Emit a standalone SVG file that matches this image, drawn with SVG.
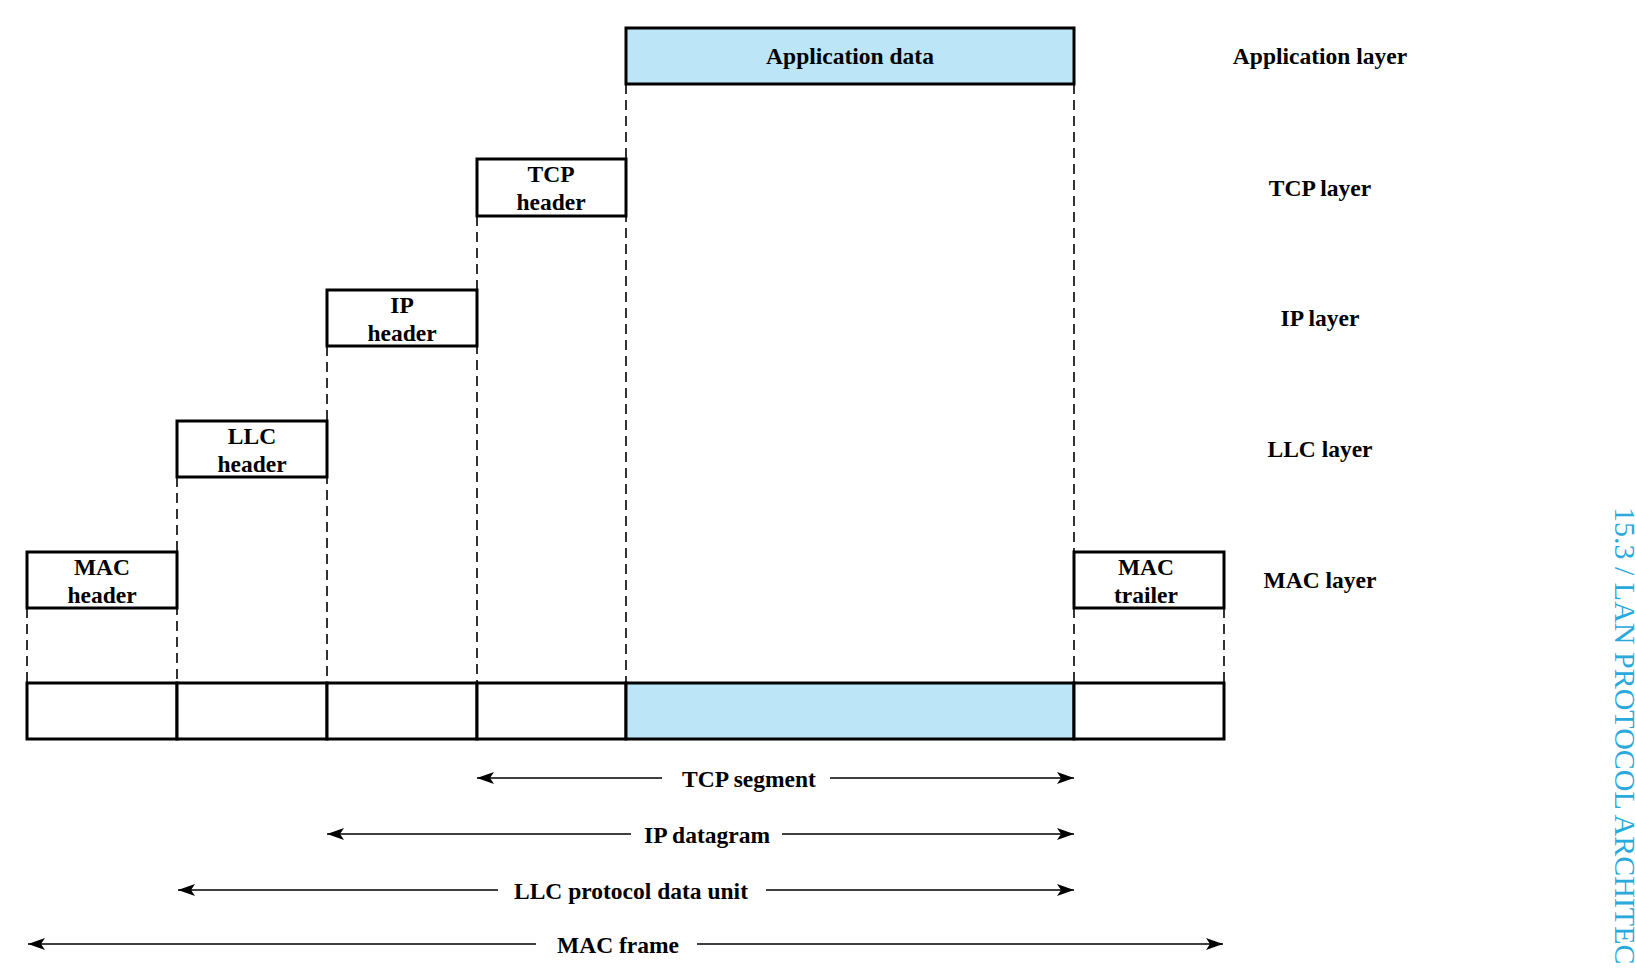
<svg xmlns="http://www.w3.org/2000/svg" width="1635" height="969" viewBox="0 0 1635 969">
<style>
.box{fill:#ffffff;stroke:#000;stroke-width:3}
.blue{fill:#bde5f8}
.lbl{font-family:"Liberation Serif","Times New Roman",serif;font-weight:bold;font-size:23.5px;fill:#000;text-anchor:middle}
.dash{stroke:#000;stroke-width:1.6;stroke-dasharray:10 6;fill:none}
.arr{stroke:#000;stroke-width:1.4;fill:none}
.side{font-family:"Liberation Serif","Times New Roman",serif;font-size:30px;fill:#29a9dc}
</style>
<defs>
<marker id="ah" markerUnits="userSpaceOnUse" markerWidth="18" markerHeight="14" refX="17" refY="6.5" orient="auto-start-reverse" viewBox="0 0 18 14">
<path d="M0,0.5 L17,6.5 L0,12.5 L4,6.5 z" fill="#000"/>
</marker>
</defs>
<rect width="1635" height="969" fill="#fff"/>

<g id="connectors">
<line class="dash" x1="626" y1="84" x2="626" y2="683"/>
<line class="dash" x1="1074" y1="84" x2="1074" y2="552"/>
<line class="dash" x1="1074" y1="608" x2="1074" y2="683"/>
<line class="dash" x1="477" y1="216" x2="477" y2="683"/>
<line class="dash" x1="327" y1="346" x2="327" y2="683"/>
<line class="dash" x1="177" y1="477" x2="177" y2="683"/>
<line class="dash" x1="27" y1="608" x2="27" y2="683"/>
<line class="dash" x1="1224" y1="608" x2="1224" y2="683"/>

<line class="arr" x1="662" y1="778" x2="477" y2="778" marker-end="url(#ah)"/>
<line class="arr" x1="830" y1="778" x2="1074" y2="778" marker-end="url(#ah)"/>
<line class="arr" x1="631" y1="834" x2="327" y2="834" marker-end="url(#ah)"/>
<line class="arr" x1="782" y1="834" x2="1074" y2="834" marker-end="url(#ah)"/>
<line class="arr" x1="498" y1="890" x2="178" y2="890" marker-end="url(#ah)"/>
<line class="arr" x1="766" y1="890" x2="1074" y2="890" marker-end="url(#ah)"/>
<line class="arr" x1="536" y1="944" x2="28" y2="944" marker-end="url(#ah)"/>
<line class="arr" x1="697" y1="944" x2="1223" y2="944" marker-end="url(#ah)"/>
</g>

<g id="app-data">
<rect class="box blue" x="626" y="28" width="448" height="56"/>
<text class="lbl" x="850" y="64">Application data</text>
</g>
<g id="tcp-header">
<rect class="box" x="477" y="159" width="149" height="57"/>
<text class="lbl" x="551" y="182">TCP</text>
<text class="lbl" x="551" y="209.5">header</text>
</g>
<g id="ip-header">
<rect class="box" x="327" y="290" width="150" height="56"/>
<text class="lbl" x="402" y="313">IP</text>
<text class="lbl" x="402" y="340.5">header</text>
</g>
<g id="llc-header">
<rect class="box" x="177" y="421" width="150" height="56"/>
<text class="lbl" x="252" y="444">LLC</text>
<text class="lbl" x="252" y="471.5">header</text>
</g>
<g id="mac-header">
<rect class="box" x="27" y="552" width="150" height="56"/>
<text class="lbl" x="102" y="575">MAC</text>
<text class="lbl" x="102" y="602.5">header</text>
</g>
<g id="mac-trailer">
<rect class="box" x="1074" y="552" width="150" height="56"/>
<text class="lbl" x="1146" y="575">MAC</text>
<text class="lbl" x="1146" y="602.5">trailer</text>
</g>

<g id="frame">
<rect class="box" x="27" y="683" width="150" height="56"/>
<rect class="box" x="177" y="683" width="150" height="56"/>
<rect class="box" x="327" y="683" width="150" height="56"/>
<rect class="box" x="477" y="683" width="149" height="56"/>
<rect class="box blue" x="626" y="683" width="448" height="56"/>
<rect class="box" x="1074" y="683" width="150" height="56"/>
</g>

<g id="layer-labels">
<text class="lbl" x="1320" y="64">Application layer</text>
<text class="lbl" x="1320" y="195.5">TCP layer</text>
<text class="lbl" x="1320" y="326">IP layer</text>
<text class="lbl" x="1320" y="457">LLC layer</text>
<text class="lbl" x="1320" y="588">MAC layer</text>
</g>

<g id="span-labels">
<text class="lbl" x="749" y="786.5">TCP segment</text>
<text class="lbl" x="707" y="842.5">IP datagram</text>
<text class="lbl" x="631" y="898.5">LLC protocol data unit</text>
<text class="lbl" x="618" y="952.5">MAC frame</text>
</g>

<text class="side" transform="translate(1615,507) rotate(90)">15.3 / LAN PROTOCOL ARCHITEC</text>
</svg>
